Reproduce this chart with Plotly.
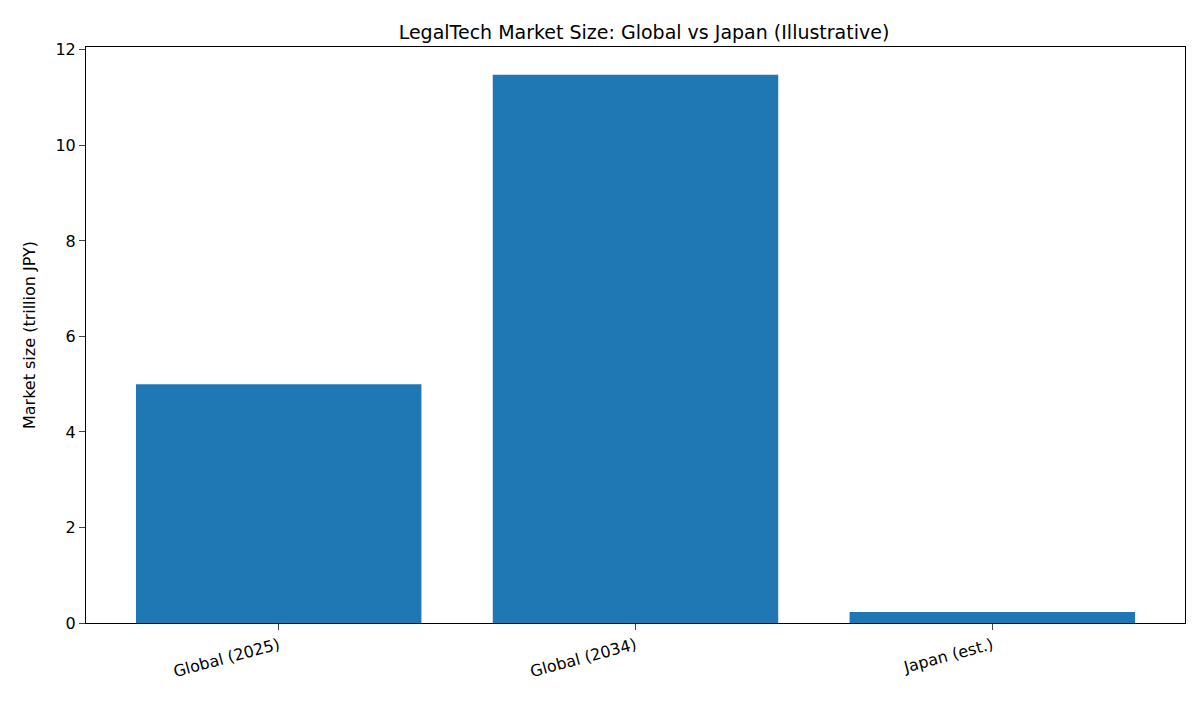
import plotly.graph_objects as go

categories = ["Global (2025)", "Global (2034)", "Japan (est.)"]
values = [5.0, 11.48, 0.23]
y_ticks = [0, 2, 4, 6, 8, 10, 12]

fig = go.Figure(go.Bar(x=list(range(len(categories))), y=values, width=0.8,
                       marker=dict(color="#1f77b4", line=dict(width=0))))
fig.update_layout(
    width=1200, height=711, plot_bgcolor="white", paper_bgcolor="white",
    margin=dict(l=78, r=23, t=39, b=96),
    font=dict(family="DejaVu Sans", size=16, color="black"),
    title=dict(text="LegalTech Market Size: Global vs Japan (Illustrative)",
               x=0.53, xanchor="center", y=0.975, font=dict(size=19)),
    showlegend=False,
)
fig.update_xaxes(range=[-0.54, 2.54], tickmode="array", tickvals=list(range(len(categories))),
                 ticktext=categories, tickangle=-15, showline=True, linecolor="black",
                 mirror=True, ticks="outside", ticklen=6, showgrid=False, zeroline=False)
fig.update_yaxes(range=[0, 12.06], tickvals=y_ticks, showline=True, linecolor="black",
                 mirror=True, ticks="outside", ticklen=6, showgrid=False, zeroline=False,
                 title=dict(text="Market size (trillion JPY)", font=dict(size=16)))
fig.write_html("out.html")
